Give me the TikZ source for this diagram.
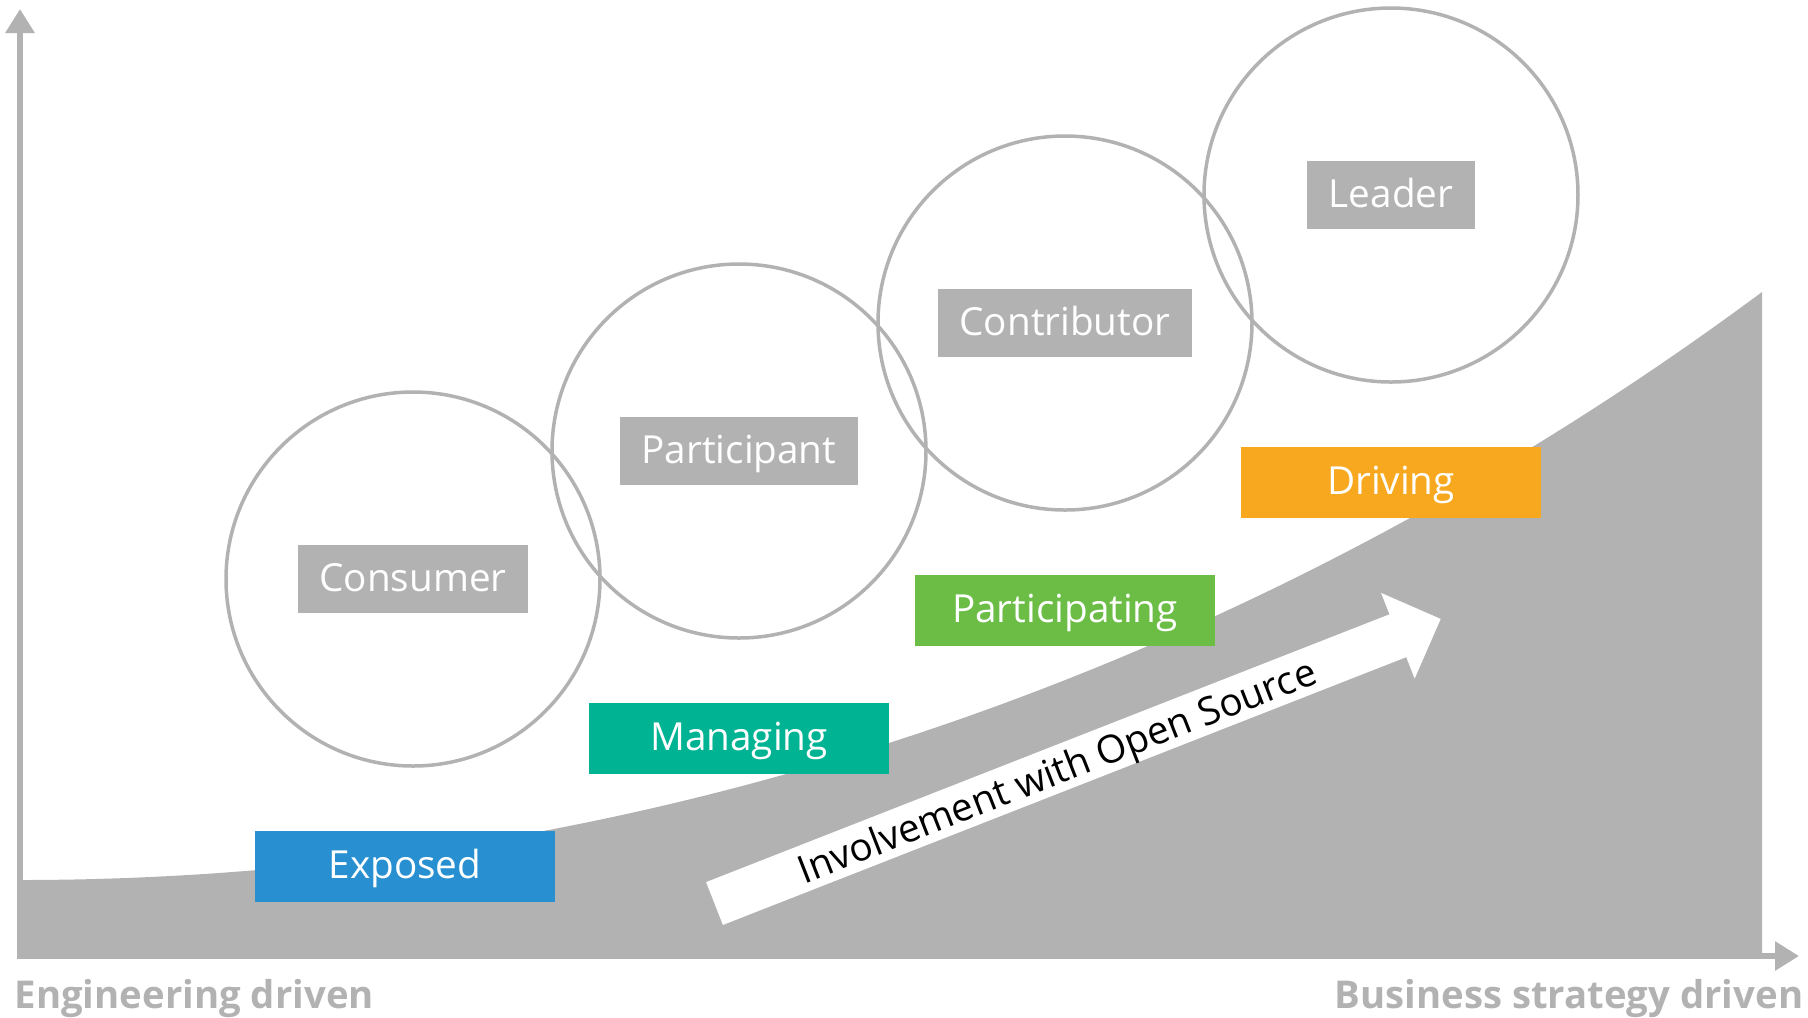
\documentclass[tikz,border=0pt]{standalone}
\usepackage{fontspec}
\setmainfont{Open Sans}
\usetikzlibrary{arrows.meta}
\definecolor{chartgray}{HTML}{B2B2B2}
\definecolor{exposedblue}{HTML}{2890D0}
\definecolor{managingteal}{HTML}{00B493}
\definecolor{partgreen}{HTML}{6BBD45}
\definecolor{drivingorange}{HTML}{F7A81E}
\tikzstyle{role}=[rectangle,fill=chartgray,text=white,inner xsep=2.15mm,
minimum height=6.8mm,text height=0.7em,text depth=0pt,font=\fontsize{11}{13}\selectfont]
\tikzstyle{stage}=[rectangle,minimum width=30mm,minimum height=7.1mm,
text height=0.7em,text depth=0pt,text=white,font=\fontsize{11}{13}\selectfont]
\tikzstyle{ring}=[draw=chartgray,line width=0.35mm]
\tikzstyle{axis}=[draw=chartgray,line width=0.6mm,>={Triangle[length=2.4mm,width=2.8mm]},<->]
\tikzstyle{axislabel}=[text=chartgray,inner sep=0pt,font=\bfseries\fontsize{10.9}{13}\selectfont]

\begin{document}
\begin{tikzpicture}[x=0.1mm,y=-0.1mm,node distance=28.7mm]
        \useasboundingbox (0,0) rectangle (1808,1017);

        \fill [chartgray] (20,880) .. controls (700,880) and (1300,635) .. (1762,292)
                -- (1762,956) -- (20,956) -- cycle;

        \coordinate (ytip) at (20,9);
        \coordinate (origin) at (20,956);
        \coordinate (xtip) at (1799,956);
        \draw [axis] (ytip) -- (origin) -- (xtip);

        \node (consumer) [role] at (413,579) {Consumer};
        \node (participant) [role,right of=consumer,xshift=3.9mm,yshift=12.8mm] {Participant};
        \node (contributor) [role,right of=participant,xshift=3.9mm,yshift=12.8mm] {Contributor};
        \node (leader) [role,right of=contributor,xshift=3.9mm,yshift=12.8mm] {Leader};

        \draw [ring] (consumer) circle (18.7mm);
        \draw [ring] (participant) circle (18.7mm);
        \draw [ring] (contributor) circle (18.7mm);
        \draw [ring] (leader) circle (18.7mm);

        \node (exposed) [stage,fill=exposedblue,below of=consumer,xshift=-0.8mm] {Exposed};
        \node (managing) [stage,fill=managingteal,below of=participant] {Managing};
        \node (participating) [stage,fill=partgreen,below of=contributor] {Participating};
        \node (driving) [stage,fill=drivingorange,below of=leader] {Driving};

        \begin{scope}[shift={(714.5,903.5)},rotate=21.4]
        \fill [white] (0,-23) -- (734,-23) -- (734,-46) -- (780,0) -- (734,46) -- (734,23) -- (0,23) -- cycle;
        \end{scope}
        \node (involvement) [rotate=21.4,font=\fontsize{11}{13}\selectfont] at (1058,774) {Involvement with Open Source};

        \node (engdriven) [axislabel,anchor=west] at (14,999) {Engineering driven};
        \node (bizdriven) [axislabel,anchor=east] at (1804,999) {Business strategy driven};

    \end{tikzpicture}
\end{document}
